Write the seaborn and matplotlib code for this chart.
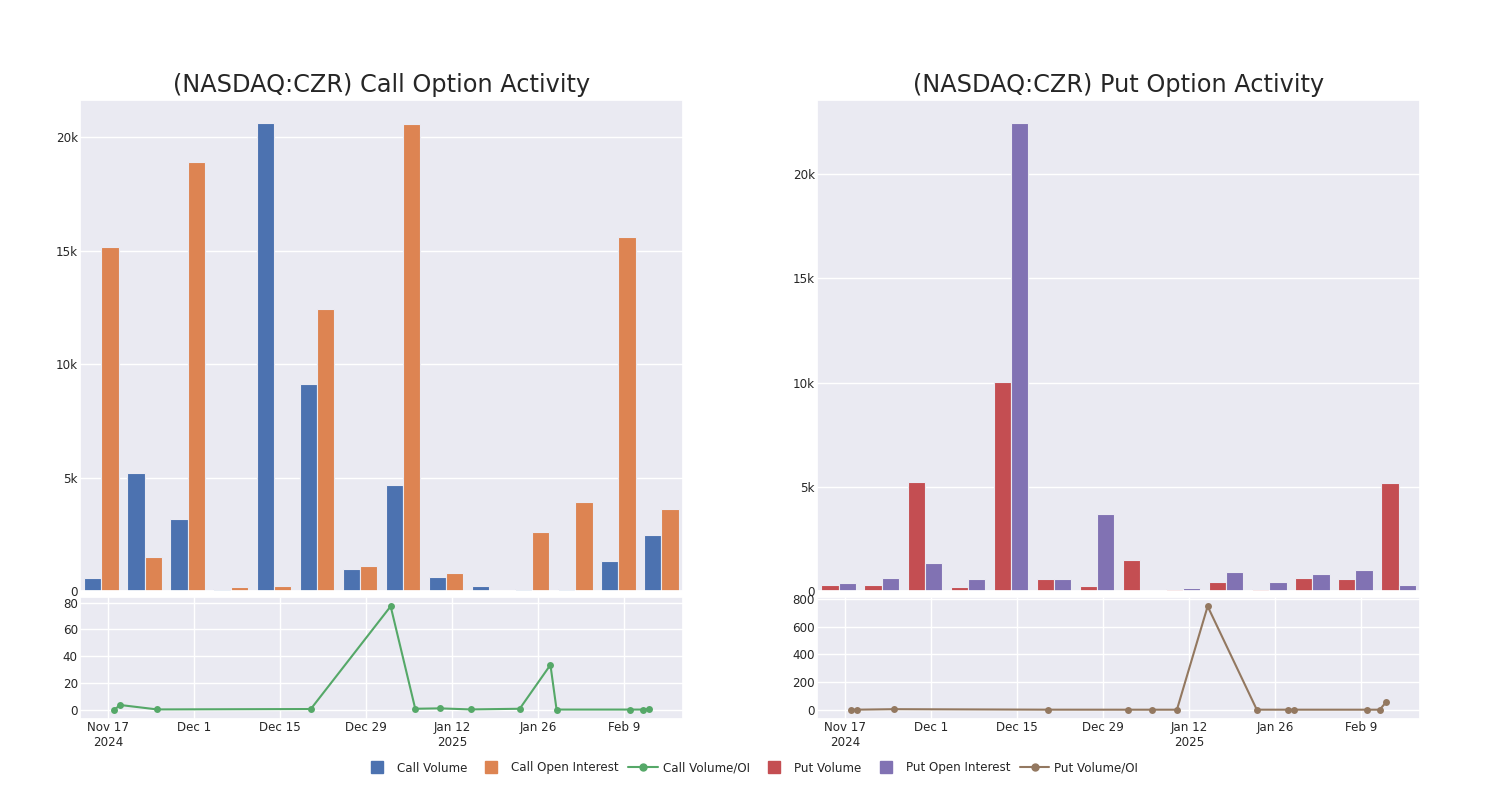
import pandas as pd
import matplotlib
matplotlib.use('Agg')
import matplotlib.pyplot as plt
import matplotlib.ticker as mticker
from matplotlib.lines import Line2D
import seaborn as sns

sns.set_theme(style='darkgrid', palette='deep')

# weekly buckets for the bar charts
weeks = ['2024-11-17', '2024-11-24', '2024-12-01', '2024-12-08', '2024-12-15',
         '2024-12-22', '2024-12-29', '2025-01-05', '2025-01-12', '2025-01-19',
         '2025-01-26', '2025-02-02', '2025-02-09', '2025-02-16']
call_volume = [560, 5190, 3190, 90, 20620, 9115, 990, 4690, 620, 236, 103, 74, 1330, 2490]
call_oi = [15180, 1490, 18910, 177, 236, 12420, 1120, 20575, 780, 0, 2600, 3940, 15600, 3610]
put_volume = [273, 289, 5230, 192, 10010, 593, 240, 1476, 112, 449, 112, 626, 578, 5165]
put_oi = [385, 642, 1363, 578, 22440, 593, 3690, 0, 128, 930, 449, 802, 995, 273]

# volume / open interest ratio per trading date
ratio_dates = ['2024-11-18', '2024-11-19', '2024-11-25', '2024-12-20', '2025-01-02',
               '2025-01-06', '2025-01-10', '2025-01-15', '2025-01-23', '2025-01-28',
               '2025-01-29', '2025-02-10', '2025-02-12', '2025-02-13']
call_ratio = [0.0, 3.5, 0.2, 0.5, 77.3, 0.7, 1.0, 0.2, 0.7, 33.5, 0.1, 0.1, 0.1, 0.7]
put_ratio = [0.5, 0.5, 4.0, 0.5, 0.3, 0.3, 0.3, 749, 0.4, 0.4, 0.4, 0.3, 0.3, 53]

tick_dates = ['2024-11-17', '2024-12-01', '2024-12-15', '2024-12-29',
              '2025-01-12', '2025-01-26', '2025-02-09']
tick_labels = ['Nov 17\n2024', 'Dec 1', 'Dec 15', 'Dec 29', 'Jan 12\n2025', 'Jan 26', 'Feb 9']

pal = sns.color_palette('deep')
call_colors = [pal[0], pal[1], pal[2]]
put_colors = [pal[3], pal[4], pal[5]]

FS = 8.6

fig = plt.figure(figsize=(15, 8), dpi=100)


def k_fmt(x, pos):
    return '0' if x == 0 else f'{int(round(x / 1000))}k'


def draw_panel(left, title, vol, oi, ratio, names, colors, ratio_step):
    ax_top = fig.add_axes([left, 0.26125, 0.402, 0.61375])
    ax_bot = fig.add_axes([left, 0.10125, 0.402, 0.1525])

    df = pd.DataFrame({'week': weeks * 2,
                       'value': vol + oi,
                       'series': [names[0]] * len(weeks) + [names[1]] * len(weeks)})
    sns.barplot(data=df, x='week', y='value', hue='series', order=weeks,
                hue_order=names[:2], palette=colors[:2], saturation=1,
                edgecolor='#eaeaf2', linewidth=0.8, ax=ax_top, legend=False)
    ax_top.set_xticks(range(0, len(weeks), 2))
    ax_top.set_xticklabels([])
    ax_top.set_xlabel('')
    ax_top.set_ylabel('')
    ax_top.yaxis.set_major_locator(mticker.MultipleLocator(5000))
    ax_top.yaxis.set_major_formatter(mticker.FuncFormatter(k_fmt))
    ax_top.tick_params(axis='both', labelsize=FS, length=0, pad=1.5)
    ax_top.set_title(title, fontsize=17.3, pad=6)

    sns.lineplot(x=pd.to_datetime(ratio_dates), y=ratio, marker='o', color=colors[2],
                 markersize=5, markeredgewidth=0, linewidth=1.5, ax=ax_bot)
    ax_bot.margins(x=0.064, y=0.09)
    ax_bot.yaxis.set_major_locator(mticker.MultipleLocator(ratio_step))
    ax_bot.set_xticks(pd.to_datetime(tick_dates))
    ax_bot.set_xticklabels(tick_labels)
    ax_bot.tick_params(axis='both', labelsize=FS, length=0, pad=1.5)
    ax_bot.set_xlabel('')
    ax_bot.set_ylabel('')


draw_panel(0.0533, '(NASDAQ:CZR) Call Option Activity', call_volume, call_oi, call_ratio,
           ['Call Volume', 'Call Open Interest', 'Call Volume/OI'], call_colors, 20)
draw_panel(0.5447, '(NASDAQ:CZR) Put Option Activity', put_volume, put_oi, put_ratio,
           ['Put Volume', 'Put Open Interest', 'Put Volume/OI'], put_colors, 200)

handles = [
    Line2D([], [], marker='s', linestyle='', color=pal[0], markersize=8.5, label='Call Volume'),
    Line2D([], [], marker='s', linestyle='', color=pal[1], markersize=8.5, label='Call Open Interest'),
    Line2D([], [], marker='o', color=pal[2], markersize=5, linewidth=1.5, label='Call Volume/OI'),
    Line2D([], [], marker='s', linestyle='', color=pal[3], markersize=8.5, label='Put Volume'),
    Line2D([], [], marker='s', linestyle='', color=pal[4], markersize=8.5, label='Put Open Interest'),
    Line2D([], [], marker='o', color=pal[5], markersize=5, linewidth=1.5, label='Put Volume/OI'),
]
fig.legend(handles=handles, loc='center', bbox_to_anchor=(0.5, 0.04), ncol=6,
           frameon=False, fontsize=FS, handlelength=2.5, columnspacing=0.8,
           handletextpad=0.4)

fig.savefig('out.png', dpi=100)
